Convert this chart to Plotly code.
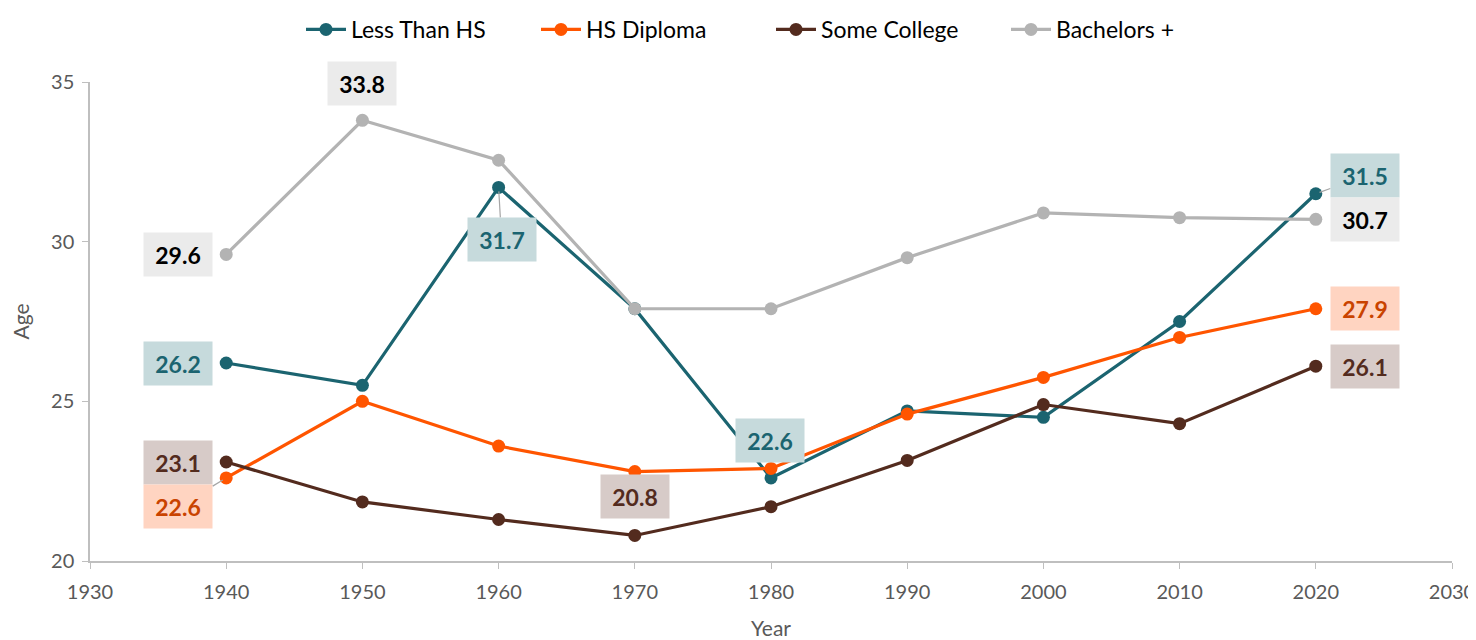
import plotly.graph_objects as go

years = [1940, 1950, 1960, 1970, 1980, 1990, 2000, 2010, 2020]
less_than_hs = [26.2, 25.5, 31.7, 27.9, 22.6, 24.7, 24.5, 27.5, 31.5]
hs_diploma = [22.6, 25.0, 23.6, 22.8, 22.9, 24.6, 25.75, 27.0, 27.9]
some_college = [23.1, 21.85, 21.3, 20.8, 21.7, 23.15, 24.9, 24.3, 26.1]
bachelors = [29.6, 33.8, 32.55, 27.9, 27.9, 29.5, 30.9, 30.75, 30.7]

series_names = ["Less Than HS", "HS Diploma", "Some College", "Bachelors +"]
series_values = [less_than_hs, hs_diploma, some_college, bachelors]
line_colors = ["#1B6470", "#FF5500", "#532B1E", "#B3B3B3"]
label_bg = ["#C6DADC", "#FFD4C1", "#D7CBC8", "#EBEBEB"]
label_fg = ["#1B6470", "#C94300", "#532B1E", "#000000"]

# labelled points: (series index, point index, x offset px, y offset px, leader line)
label_specs = [
    (3, 0, -48, 0, False),
    (3, 1, 0, -37, False),
    (0, 2, 3, 52, True),
    (0, 0, -48, 0, False),
    (2, 0, -48, 0, False),
    (1, 0, -48, 29, True),
    (2, 3, 0, -39, False),
    (0, 4, -1, -37, False),
    (0, 8, 49, -18, True),
    (3, 8, 49, 0, False),
    (1, 8, 49, 0, False),
    (2, 8, 49, 0, False),
]

FONT = "Lato, 'Open Sans', sans-serif"

fig = go.Figure()
for name, vals, col in zip(series_names, series_values, line_colors):
    fig.add_trace(go.Scatter(
        x=years, y=vals, name=name, mode="lines+markers",
        line=dict(color=col, width=3.2),
        marker=dict(color=col, size=13),
    ))

for si, pi, dx, dy, leader in label_specs:
    val = series_values[si][pi]
    common = dict(
        x=years[pi], y=val, xref="x", yref="y",
        text=f"<b>{val:.1f}</b>",
        font=dict(family=FONT, size=23, color=label_fg[si]),
        bgcolor=label_bg[si], borderpad=5, width=58, height=33,
        align="center", valign="middle",
    )
    if leader:
        fig.add_annotation(**common, showarrow=True, ax=dx, ay=dy,
                           arrowhead=0, arrowwidth=1.2, arrowcolor="#A6A6A6",
                           standoff=4)
    else:
        fig.add_annotation(**common, showarrow=False, xshift=dx, yshift=-dy)

fig.update_layout(
    width=1468, height=632,
    margin=dict(l=82, r=24, t=74, b=79, autoexpand=False),
    paper_bgcolor="white", plot_bgcolor="white",
    font=dict(family=FONT, color="#595959"),
    showlegend=True,
    legend=dict(orientation="h", x=0.5, xanchor="center", y=1.0, yanchor="top",
                yref="container", font=dict(size=23, color="#000000"),
                itemwidth=40, tracegroupgap=0, entrywidth=180),
    xaxis=dict(range=[1930, 2030], dtick=10, tick0=1930, showgrid=False,
               zeroline=False, showline=True, linecolor="#BFBFBF", linewidth=1.5,
               ticks="outside", ticklen=6, tickcolor="#BFBFBF", automargin=False,
               ticklabeloverflow="allow", ticklabelstandoff=6,
               tickfont=dict(size=20, color="#595959"),
               title=dict(text="Year", font=dict(size=21, color="#595959"), standoff=22)),
    yaxis=dict(range=[20, 35], dtick=5, showgrid=False, zeroline=False,
               showline=True, linecolor="#BFBFBF", linewidth=1.5,
               ticks="outside", ticklen=6, tickcolor="#BFBFBF", automargin=False,
               ticklabelstandoff=4,
               tickfont=dict(size=20, color="#595959"),
               title=dict(text="Age", font=dict(size=21, color="#595959"), standoff=22)),
)

fig.write_html("out.html")
